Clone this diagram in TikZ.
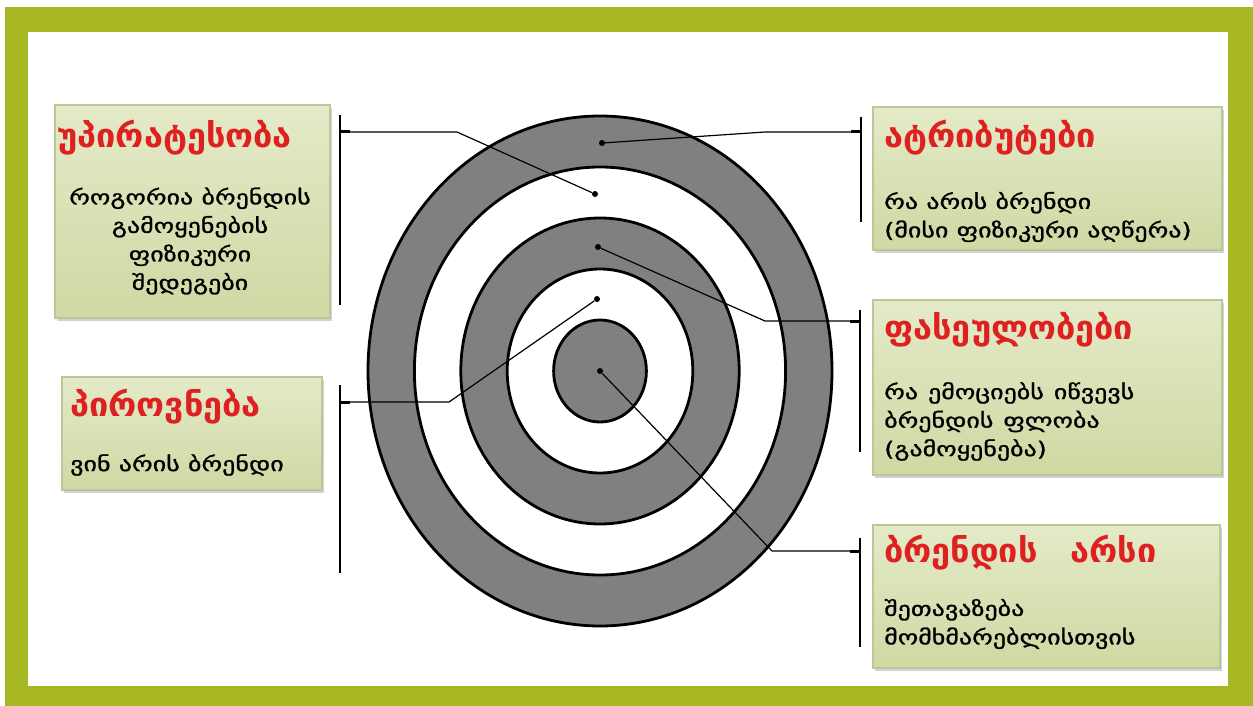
\documentclass[tikz,border=0pt]{standalone}
\usepackage{fontspec}
\usetikzlibrary{shadows}
\newfontfamily\geofont[FakeStretch=1.04]{DejaVu Sans}
\newfontfamily\geowide[FakeStretch=1.3,FakeBold=1.2]{DejaVu Sans}
\definecolor{FrameGreen}{RGB}{166,183,35}
\definecolor{RingGray}{RGB}{128,128,128}
\definecolor{BoxTop}{RGB}{228,234,200}
\definecolor{BoxBottom}{RGB}{206,217,163}
\definecolor{BoxEdge}{RGB}{188,198,150}
\definecolor{TitleRed}{RGB}{222,32,32}

\tikzset{
  box/.style={rectangle, draw=BoxEdge, line width=1.2pt, top color=BoxTop, bottom color=BoxBottom,
    drop shadow={opacity=0.35, shadow xshift=2pt, shadow yshift=-3pt}, inner sep=0pt},
  boxtitle/.style={anchor=west, inner sep=0pt, text=TitleRed, font=\geofont\bfseries\fontsize{33}{36}\selectfont},
  boxtext/.style={anchor=west, inner sep=0pt, align=left, font=\geowide\fontsize{20}{28.5}\selectfont},
  dot/.style={circle, fill=black, inner sep=0pt, minimum size=6pt},
  bracket/.style={line width=2pt},
  link/.style={line width=1.2pt},
  stub/.style={line width=3pt}
}

\begin{document}
\begin{tikzpicture}[x=1pt,y=-1pt]
      \useasboundingbox (0,0) rectangle (1253,706);
      \fill[white] (0,0) rectangle (1253,706);
      \fill[FrameGreen] (5,7) rectangle (1253,706);
      \fill[white] (28,32) rectangle (1228,686);

      \foreach \k/\c in {5/RingGray,4/white,3/RingGray,2/white,1/RingGray}
        \filldraw[fill=\c, line width=2.8pt] (600,371) ellipse [x radius=46.4*\k, y radius=51*\k];

      \node[dot] (d1) at (602,143) {};
      \node[dot] (d2) at (595,194) {};
      \node[dot] (d3) at (598,247) {};
      \node[dot] (d4) at (597,299) {};
      \node[dot] (d5) at (600,371) {};

      \node[box, minimum width=275, minimum height=213] (prefBox) at (192.5,211.5) {};
      \node[boxtitle] (prefTitle) at (57,138) {უპირატესობა};
      \node[boxtext, anchor=center, align=center] (prefText) at (190,241)
        {როგორია ბრენდის\\გამოყენების\\ფიზიკური\\შედეგები};

      \node[box, minimum width=260, minimum height=113] (persBox) at (192,433.5) {};
      \node[boxtitle] (persTitle) at (70,407) {პიროვნება};
      \node[boxtext] (persText) at (70,465) {ვინ არის ბრენდი};

      \node[box, minimum width=349, minimum height=143] (attrBox) at (1047.5,178.5) {};
      \node[boxtitle] (attrTitle) at (884,138) {ატრიბუტები};
      \node[boxtext] (attrText) at (884,217) {რა არის ბრენდი\\(მისი ფიზიკური აღწერა)};

      \node[box, minimum width=349, minimum height=175] (valBox) at (1047.5,387.5) {};
      \node[boxtitle] (valTitle) at (884,330) {ფასეულობები};
      \node[boxtext] (valText) at (884,421.5)
        {რა\hspace{0.5em}ემოციებს\hspace{0.5em}იწვევს\\ბრენდის\hspace{0.5em}ფლობა\\(გამოყენება)};

      \node[box, minimum width=347, minimum height=143] (coreBox) at (1046.5,596.5) {};
      \node[boxtitle] (coreTitle) at (884,553) {ბრენდის\hspace{1em}არსი};
      \node[boxtext] (coreText) at (884,624) {შეთავაზება\\მომხმარებლისთვის};

      \draw[bracket] (340,115) -- (340,305);
      \draw[bracket] (340,385) -- (340,573);
      \draw[bracket] (861,117) -- (861,222);
      \draw[bracket] (860,310) -- (860,452);
      \draw[bracket] (860,538) -- (860,647);

      \coordinate (jPref) at (340,132);
      \coordinate (jPers) at (340,402);
      \coordinate (jAttr) at (861,132);
      \coordinate (jVal) at (860,321);
      \coordinate (jCore) at (860,551);

      \draw[link] (jPref) -- (457,132) -- (d2);
      \draw[link] (jPers) -- (449,402) -- (d4);
      \draw[link] (jAttr) -- (765,132) -- (d1);
      \draw[link] (jVal) -- (765,321) -- (d3);
      \draw[link] (jCore) -- (772,551) -- (d5);

      \draw[stub] (jPref) -- ++(10,0);
      \draw[stub] (jPers) -- ++(10,0);
      \draw[stub] (jAttr) -- ++(-10,0);
      \draw[stub] (jVal) -- ++(-10,0);
      \draw[stub] (jCore) -- ++(-10,0);
    \end{tikzpicture}
\end{document}
